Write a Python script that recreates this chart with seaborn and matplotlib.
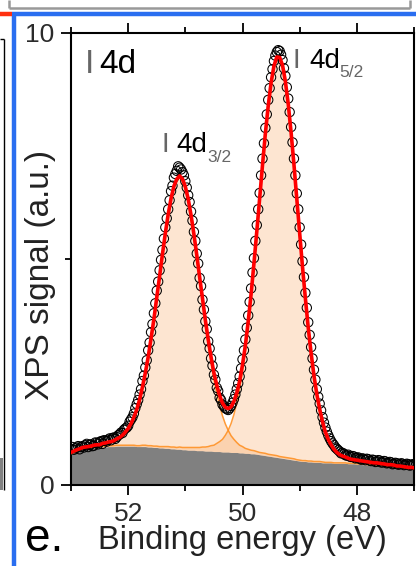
import numpy as np
import matplotlib
matplotlib.use('Agg')
import matplotlib.pyplot as plt
import seaborn as sns
from matplotlib.lines import Line2D
from matplotlib.patches import Rectangle
from matplotlib.ticker import MultipleLocator

# I 4d XPS spectrum.
# measured points: 0.025 eV grid, 53 -> 47 eV
energy_pts = np.linspace(53.0, 47.0, 241)
signal = [0.80, 0.84, 0.78, 0.81, 0.83, 0.86, 0.79, 0.84, 0.86, 0.83,
          0.88, 0.91, 0.84, 0.89, 0.90, 0.86, 0.87, 0.94, 0.93, 0.90,
          0.95, 0.97, 0.91, 0.99, 0.98, 0.96, 1.00, 1.03, 0.99, 1.04,
          1.05, 1.02, 1.06, 1.10, 1.12, 1.16, 1.15, 1.22, 1.25, 1.27,
          1.31, 1.40, 1.45, 1.50, 1.58, 1.70, 1.79, 1.88, 2.00, 2.12,
          2.30, 2.42, 2.60, 2.76, 2.98, 3.15, 3.38, 3.56, 3.80, 4.02,
          4.30, 4.50, 4.75, 4.98, 5.20, 5.45, 5.70, 5.90, 6.10, 6.30,
          6.50, 6.62, 6.80, 6.88, 6.95, 7.05, 7.02, 6.98, 6.92, 6.85,
          6.72, 6.58, 6.41, 6.26, 6.05, 5.85, 5.60, 5.40, 5.12, 4.90,
          4.58, 4.40, 4.10, 3.88, 3.62, 3.45, 3.18, 3.02, 2.80, 2.64,
          2.44, 2.33, 2.15, 2.08, 1.93, 1.88, 1.78, 1.74, 1.70, 1.68,
          1.66, 1.70, 1.75, 1.82, 1.90, 2.00, 2.12, 2.25, 2.40, 2.58,
          2.78, 2.98, 3.22, 3.48, 3.75, 4.05, 4.35, 4.70, 5.02, 5.40,
          5.75, 6.10, 6.46, 6.85, 7.22, 7.56, 7.90, 8.20, 8.52, 8.78,
          9.02, 9.20, 9.38, 9.50, 9.58, 9.62, 9.60, 9.52, 9.40, 9.22,
          9.05, 8.80, 8.55, 8.25, 7.92, 7.58, 7.22, 6.85, 6.45, 6.10,
          5.70, 5.32, 4.95, 4.60, 4.25, 3.92, 3.60, 3.32, 3.05, 2.80,
          2.55, 2.33, 2.12, 1.95, 1.80, 1.65, 1.50, 1.38, 1.27, 1.18,
          1.10, 1.03, 0.97, 0.92, 0.88, 0.83, 0.80, 0.77, 0.74, 0.70,
          0.71, 0.69, 0.66, 0.65, 0.67, 0.63, 0.62, 0.64, 0.63, 0.59,
          0.60, 0.61, 0.58, 0.56, 0.59, 0.57, 0.55, 0.58, 0.57, 0.54,
          0.53, 0.56, 0.55, 0.51, 0.52, 0.55, 0.54, 0.50, 0.50, 0.53,
          0.52, 0.48, 0.49, 0.51, 0.50, 0.46, 0.47, 0.49, 0.48, 0.45,
          0.46, 0.48, 0.47, 0.44, 0.45, 0.47, 0.46, 0.43, 0.44, 0.46,
          0.45]

# fit: 0.05 eV grid, 53 -> 47 eV
energy_fit = np.linspace(53.0, 47.0, 121)
background = [0.68, 0.71, 0.74, 0.76, 0.78, 0.79, 0.80, 0.81, 0.82, 0.83,
              0.83, 0.84, 0.84, 0.85, 0.85, 0.85, 0.86, 0.86, 0.86, 0.86,
              0.86, 0.86, 0.86, 0.85, 0.85, 0.85, 0.85, 0.84, 0.84, 0.83,
              0.83, 0.82, 0.82, 0.81, 0.81, 0.80, 0.80, 0.79, 0.79, 0.78,
              0.78, 0.77, 0.77, 0.77, 0.76, 0.76, 0.76, 0.75, 0.75, 0.75,
              0.74, 0.74, 0.74, 0.73, 0.73, 0.73, 0.72, 0.72, 0.72, 0.71,
              0.71, 0.70, 0.70, 0.69, 0.69, 0.68, 0.67, 0.66, 0.65, 0.64,
              0.63, 0.62, 0.61, 0.60, 0.59, 0.58, 0.57, 0.56, 0.55, 0.54,
              0.53, 0.52, 0.52, 0.51, 0.51, 0.50, 0.50, 0.50, 0.49, 0.49,
              0.49, 0.49, 0.48, 0.48, 0.48, 0.48, 0.48, 0.47, 0.47, 0.47,
              0.46, 0.46, 0.45, 0.45, 0.44, 0.44, 0.43, 0.43, 0.42, 0.42,
              0.41, 0.40, 0.40, 0.39, 0.38, 0.38, 0.37, 0.36, 0.35, 0.35,
              0.34]

# fitted components (height above background)
comp_32 = [0.03, 0.03, 0.03, 0.03, 0.04, 0.04, 0.04, 0.04, 0.05, 0.05,
           0.05, 0.06, 0.07, 0.08, 0.09, 0.11, 0.14, 0.17, 0.22, 0.29,
           0.37, 0.48, 0.62, 0.80, 1.02, 1.29, 1.60, 1.96, 2.37, 2.81,
           3.29, 3.77, 4.26, 4.72, 5.14, 5.50, 5.77, 5.94, 6.00, 5.94,
           5.77, 5.50, 5.14, 4.72, 4.26, 3.77, 3.29, 2.81, 2.37, 1.96,
           1.60, 1.29, 1.02, 0.80, 0.62, 0.48, 0.37, 0.29, 0.22, 0.17,
           0.14, 0.11, 0.09, 0.08, 0.07, 0.06, 0.05, 0.05, 0.05, 0.04,
           0.04, 0.04, 0.04, 0.03, 0.03, 0.03, 0.03, 0.03, 0.03, 0.02,
           0.02, 0.02, 0.02, 0.02, 0.02, 0.02, 0.02, 0.02, 0.02, 0.01] + [0.01] * 31

comp_52 = [0.01] * 11 + [0.02] * 14 + [0.03] * 8 + [0.04] * 5 + \
          [0.05, 0.05, 0.05, 0.06, 0.06, 0.06, 0.07, 0.07, 0.08, 0.09,
           0.10, 0.12, 0.14, 0.18, 0.22, 0.28, 0.37, 0.48, 0.64, 0.84,
           1.10, 1.42, 1.81, 2.28, 2.83, 3.45, 4.14, 4.87, 5.62, 6.37,
           7.08, 7.71, 8.23, 8.61, 8.82, 8.83, 8.67, 8.32, 7.83, 7.21,
           6.51, 5.77, 5.02, 4.28, 3.59, 2.95, 2.39, 1.90, 1.49, 1.16,
           0.89, 0.67, 0.51, 0.39, 0.30, 0.23, 0.18, 0.15, 0.13, 0.11,
           0.09, 0.08, 0.08, 0.07, 0.07, 0.06, 0.06, 0.05, 0.05, 0.05,
           0.05, 0.04, 0.04, 0.04, 0.04, 0.04, 0.03, 0.03, 0.03, 0.03,
           0.03, 0.03, 0.03]

bg = np.array(background)
top_32 = bg + np.array(comp_32)
top_52 = bg + np.array(comp_52)
envelope = bg + np.array(comp_32) + np.array(comp_52)

sns.set_theme(style='ticks')
plt.rcParams['font.family'] = ['Liberation Sans', 'DejaVu Sans']

W, H = 416, 566
fig = plt.figure(figsize=(W / 100, H / 100), dpi=100)
fig.patch.set_facecolor('white')
ax = fig.add_axes([71 / W, 81 / H, 343 / W, 452 / H])

# background + components
ax.fill_between(energy_fit, 0, bg, color='#808080', lw=0, zorder=1)
for top in (top_32, top_52):
    ax.fill_between(energy_fit, bg, top, color='#f9a35a', alpha=0.28, lw=0, zorder=2)
    ax.plot(energy_fit, top, color='#ff8c1a', lw=1.1, alpha=0.85, zorder=3)

# measured points and fit envelope
sns.scatterplot(x=energy_pts, y=signal, ax=ax, marker='o', s=45, facecolor='none',
                edgecolor='black', linewidth=0.75, zorder=4, legend=False)
sns.lineplot(x=energy_fit, y=envelope, ax=ax, color='red', lw=2.6, sort=False, zorder=5)

ax.set_xlim(53, 47)
ax.set_ylim(0, 10)
ax.xaxis.set_major_locator(MultipleLocator(2))
ax.xaxis.set_minor_locator(MultipleLocator(1))
ax.set_yticks([0, 10])
ax.set_yticks([5], minor=True)
ax.tick_params(which='both', direction='out', top=True, right=False, width=1.3,
               colors='black', labelcolor='#2b2b2b', labelsize=19)
ax.tick_params(which='major', length=7, pad=5)
ax.tick_params(which='minor', length=4)
for sp in ax.spines.values():
    sp.set_visible(True)
    sp.set_linewidth(1.5)
    sp.set_color('black')

ax.set_xlabel('Binding energy (eV)', fontsize=23.5, color='#222222')
ax.xaxis.set_label_coords(0.5, -0.088)
ax.set_ylabel('XPS signal (a.u.)', fontsize=24, color='#222222')
ax.yaxis.set_label_coords(-0.045, 0.465)

# peak labels
grey = '#666666'
ax.text(52.75, 9.12, 'I', fontsize=24, color=grey)
ax.text(52.51, 9.12, '4d', fontsize=24, color='black')
ax.text(51.42, 7.37, 'I', fontsize=20, color=grey)
ax.text(51.16, 7.37, '4d', fontsize=20, color='black')
ax.text(50.61, 7.15, '3/2', fontsize=12.5, color=grey)
ax.text(49.12, 9.23, 'I', fontsize=20, color=grey)
ax.text(48.83, 9.23, '4d', fontsize=20, color='black')
ax.text(48.30, 9.02, '5/2', fontsize=12.5, color=grey)

fig.text(25 / W, 1 - 551 / H, 'e.', fontsize=33, color='black')

# frame pieces of the surrounding figure
def px_line(x0, y0, x1, y1, color, lw):
    fig.add_artist(Line2D([x0 / W, x1 / W], [1 - y0 / H, 1 - y1 / H],
                          transform=fig.transFigure, color=color, lw=lw,
                          solid_capstyle='butt'))

px_line(13.5, 12, 13.5, H, '#2a6ef0', 3.2)
px_line(12, 13.5, W, 13.5, '#2a6ef0', 3.2)
px_line(0, 13.5, 12, 13.5, '#ff3010', 3.2)
px_line(9, 0, 9, 8, '#999999', 1.8)
px_line(9, 8, 410, 8, '#999999', 1.8)
px_line(410, 0, 410, 8, '#999999', 1.8)
px_line(3.5, 39, 3.5, 490, 'black', 1.0)
px_line(0, 39, 3.5, 39, 'black', 1.0)
fig.add_artist(Rectangle((0, 1 - 490 / H), 3 / W, 32 / H, transform=fig.transFigure,
                         color='#808080', lw=0))

fig.savefig('out.png', dpi=100)
